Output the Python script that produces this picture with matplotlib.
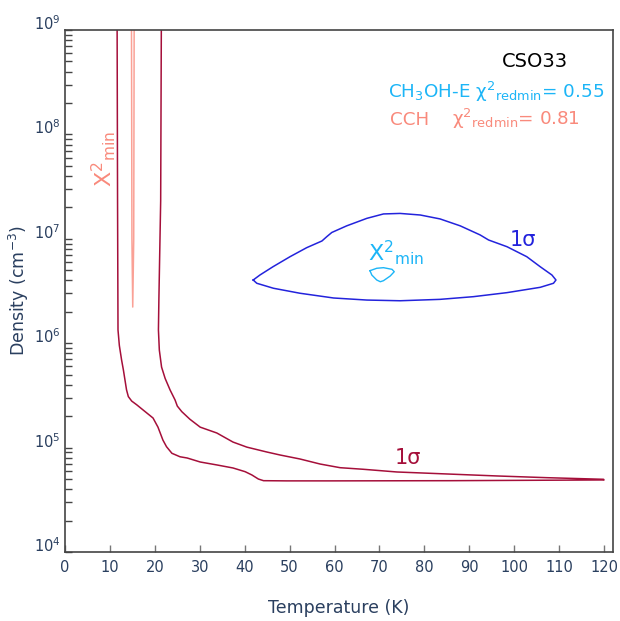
import numpy as np
import matplotlib.pyplot as plt
from matplotlib.ticker import LogLocator, NullFormatter

plt.rcParams['font.family'] = ['DejaVu Sans']
plt.rcParams['mathtext.default'] = 'regular'

# CCH 1 sigma contour (open at the top, closes at T = 120 K)
T_red = [11.6, 11.7, 11.8, 12.1, 12.6, 13.0, 13.7, 14.1, 14.85, 15.97, 17.4,
         19.6, 20.7, 21.8, 22.6, 23.8, 25.6, 27.2, 30.1, 33.9, 37.4, 40.1,
         41.6, 43.05, 44.2, 49.4, 59.0, 85.7, 120.0,
         119.9, 107.3, 96.15, 85.0, 73.9, 66.4, 61.25, 56.8, 52.3, 47.9, 44.9,
         40.5, 37.4, 33.8, 30.1, 27.8, 26.0, 25.0, 24.5, 23.4, 22.3, 21.5,
         21.0, 20.8, 20.9, 21.3, 21.45]
n_red = [1.2e9, 2.3e7, 1.34e6, 9.5e5, 6.9e5, 5.54e5, 3.57e5, 3.08e5, 2.79e5,
         2.57e5, 2.29e5, 1.92e5, 1.57e5, 1.18e5, 1.02e5, 8.82e4, 8.17e4, 7.95e4,
         7.28e4, 6.81e4, 6.38e4, 5.88e4, 5.47e4, 5.0e4, 4.82e4, 4.8e4, 4.8e4,
         4.82e4, 4.9e4,
         4.97e4, 5.15e4, 5.35e4, 5.59e4, 5.84e4, 6.2e4, 6.42e4, 6.96e4, 7.78e4,
         8.49e4, 9.08e4, 1.01e5, 1.13e5, 1.38e5, 1.57e5, 1.87e5, 2.21e5, 2.5e5,
         2.86e5, 3.56e5, 4.59e5, 5.9e5, 8.6e5, 1.34e6, 2.6e6, 2.3e7, 1.2e9]

# CCH chi2 min (very narrow contour)
T_cch_min = [14.8, 14.9, 15.08, 15.3, 15.4]
n_cch_min = [1.2e9, 1.0e7, 2.22e6, 1.0e7, 1.2e9]

# CH3OH-E 1 sigma contour
T_blue = [41.9, 43.4, 46.3, 50.1, 53.8, 57.2, 58.3, 59.4, 62.7, 67.2, 70.9, 74.6,
          79.1, 83.5, 88.0, 92.4, 94.3, 98.4, 102.8, 105.8, 108.4, 109.3, 108.75,
          105.8, 98.4, 90.9, 83.5, 74.6, 67.2, 59.8, 52.3, 46.4, 42.7, 41.9]
n_blue = [4.03e6, 4.5e6, 5.4e6, 6.74e6, 8.22e6, 9.53e6, 1.05e7, 1.15e7, 1.33e7,
          1.57e7, 1.73e7, 1.75e7, 1.69e7, 1.55e7, 1.33e7, 1.09e7, 9.74e6, 8.4e6,
          6.74e6, 5.4e6, 4.5e6, 4.03e6, 3.75e6, 3.43e6, 3.05e6, 2.79e6, 2.63e6,
          2.55e6, 2.59e6, 2.71e6, 3.01e6, 3.36e6, 3.75e6, 4.03e6]

# CH3OH-E chi2 min
T_cyan = [67.9, 69.4, 70.9, 72.8, 73.3, 72.4, 70.9, 70.2, 69.4, 68.3, 67.9]
n_cyan = [4.95e6, 5.22e6, 5.29e6, 5.1e6, 4.84e6, 4.4e6, 3.97e6, 3.88e6, 4.03e6,
          4.5e6, 4.95e6]

xticks = list(range(0, 121, 10))
yticks = [1e4, 1e5, 1e6, 1e7, 1e8, 1e9]
ylabels = ['$10^{4}$', '$10^{5}$', '$10^{6}$', '$10^{7}$', '$10^{8}$', '$10^{9}$']

red = '#a50f3a'
salmon = '#f98a7c'
blue = '#2323dc'
cyan = '#1cb5f7'
txt = '#2a3f5f'

fig = plt.figure(figsize=(6.2, 6.21), dpi=100)
ax = fig.add_axes([65/620, 1 - 552/621, 548/620, 522/621])

ax.plot(T_red, n_red, color=red, lw=1.1)
ax.plot(T_cch_min, n_cch_min, color=salmon, lw=1.1, alpha=0.8)
ax.plot(T_blue, n_blue, color=blue, lw=1.1)
ax.plot(T_cyan, n_cyan, color=cyan, lw=1.0)

ax.set_yscale('log')
ax.set_xlim(0, 122)
ax.set_ylim(1e4, 1e9)

ax.set_xticks(xticks)
ax.set_xticklabels([str(t) for t in xticks])
ax.set_yticks(yticks)
ax.set_yticklabels(ylabels, va='baseline')
ax.yaxis.set_minor_locator(LogLocator(base=10, subs=range(2, 10)))
ax.yaxis.set_minor_formatter(NullFormatter())

ax.tick_params(axis='x', direction='in', length=5, width=1, color='#777777',
               labelcolor=txt, labelsize=10.5, pad=6)
ax.tick_params(axis='y', which='both', direction='in', length=5, width=1,
               color='#444444', labelcolor=txt, labelsize=10.5, pad=3)
for s in ax.spines.values():
    s.set_color('#444444')
    s.set_linewidth(1.2)

ax.set_xlabel('Temperature (K)', color=txt, fontsize=12.5, labelpad=17)
ax.set_ylabel('Density (cm$^{-3}$)', color=txt, fontsize=12.5, labelpad=2)

# annotations
ax.text(0.857, 0.940, 'CSO33', color='black', fontsize=14,
        ha='center', va='center', transform=ax.transAxes)
ax.text(0.589, 0.870, 'CH$_3$OH-E χ$^2$$_{redmin}$= 0.55', color=cyan,
        fontsize=13.2, ha='left', va='baseline', transform=ax.transAxes)
ax.text(0.593, 0.818, 'CCH', color=salmon, fontsize=13.2,
        ha='left', va='baseline', transform=ax.transAxes)
ax.text(0.706, 0.818, 'χ$^2$$_{redmin}$= 0.81', color=salmon, fontsize=13.2,
        ha='left', va='baseline', transform=ax.transAxes)

ax.text(0.836, 0.598, '1σ', color=blue, fontsize=15,
        ha='center', va='center', transform=ax.transAxes)
ax.text(0.626, 0.180, '1σ', color=red, fontsize=15,
        ha='center', va='center', transform=ax.transAxes)
ax.text(0.553, 0.559, 'X$^2$$_{min}$', color=cyan, fontsize=16,
        ha='left', va='baseline', transform=ax.transAxes)
ax.text(0.0858, 0.699, 'X$^2$$_{min}$', color=salmon, fontsize=16, rotation=90,
        rotation_mode='anchor', ha='left', va='baseline', transform=ax.transAxes)

fig.savefig('out.png', dpi=100)
